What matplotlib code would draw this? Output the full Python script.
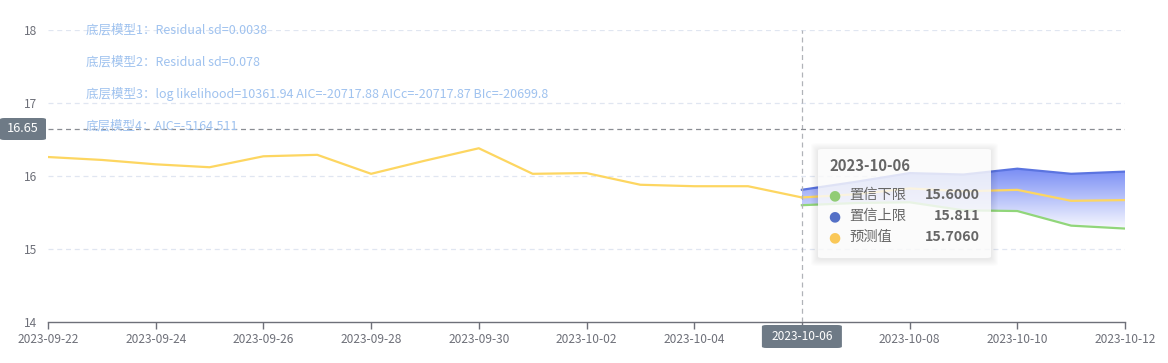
import matplotlib
matplotlib.use("Agg")
import matplotlib.pyplot as plt
import matplotlib.dates as mdates
from matplotlib.patches import FancyBboxPatch, Polygon
import numpy as np
import pandas as pd

plt.rcParams['font.family'] = ['Noto Sans CJK SC', 'DejaVu Sans']

# ---------------- data ----------------
hist_dates = ["2023-09-22", "2023-09-23", "2023-09-24", "2023-09-25", "2023-09-26",
              "2023-09-27", "2023-09-28", "2023-09-29", "2023-09-30", "2023-10-01",
              "2023-10-02", "2023-10-03", "2023-10-04", "2023-10-05", "2023-10-06"]
hist_values = [16.26, 16.22, 16.16, 16.12, 16.27, 16.29, 16.03, 16.21, 16.38, 16.03,
               16.04, 15.88, 15.86, 15.86, 15.706]

fc_dates = ["2023-10-06", "2023-10-07", "2023-10-08", "2023-10-09", "2023-10-10",
            "2023-10-11", "2023-10-12"]
lower_values = [15.60, 15.63, 15.64, 15.53, 15.52, 15.32, 15.28]
upper_values = [15.811, 15.92, 16.04, 16.02, 16.10, 16.03, 16.06]
pred_values = [15.706, 15.75, 15.83, 15.79, 15.81, 15.66, 15.67]

tick_dates = ["2023-09-22", "2023-09-24", "2023-09-26", "2023-09-28", "2023-09-30",
              "2023-10-02", "2023-10-04", "2023-10-06", "2023-10-08", "2023-10-10",
              "2023-10-12"]
y_ticks = [14, 15, 16, 17, 18]

notes = ["底层模型1：Residual sd=0.0038",
         "底层模型2：Residual sd=0.078",
         "底层模型3：log likelihood=10361.94 AIC=-20717.88 AICc=-20717.87 BIc=-20699.8",
         "底层模型4：AIC=-5164.511"]

pointer_date = "2023-10-06"
pointer_value = 16.65
tooltip_title = "2023-10-06"
tooltip_names = ["置信下限", "置信上限", "预测值"]
tooltip_values = ["15.6000", "15.811", "15.7060"]

# ---------------- styles ----------------
C_HIST = "#fdd661"
C_PRED = "#fdd661"
C_LOW = "#91d67a"
C_UP = "#5b74e0"
C_AXIS = "#6e7079"
C_GRID = "#e0e6f1"
C_NOTE = "#9fc2ef"
C_BOX = "#6e7a86"
TOOL_DOTS = ["#91cc75", "#5470c6", "#fac858"]

W, H = 1168, 363
fig = plt.figure(figsize=(W / 100, H / 100), dpi=100)
L, R, T, B = 48, 1125, 30, 322
ax = fig.add_axes([L / W, 1 - B / H, (R - L) / W, (B - T) / H])

hd = pd.to_datetime(hist_dates)
fd = pd.to_datetime(fc_dates)
td = pd.to_datetime(tick_dates)
hx = mdates.date2num(hd)
fx = mdates.date2num(fd)

ax.set_xlim(mdates.date2num(td[0]), mdates.date2num(td[-1]))
ax.set_ylim(14, 18)

# grid
for yv in y_ticks[1:]:
    ax.axhline(yv, color=C_GRID, lw=0.9, ls=(0, (4, 3)), zorder=0)

# gradient fill between lower and upper
ytop, ybot = max(upper_values), min(lower_values) - 0.05
grad = np.linspace(0, 1, 256).reshape(-1, 1)
top_c = np.array([0.47, 0.55, 0.96])
bot_c = np.array([1.0, 1.0, 1.0])
img = top_c[None, None, :] * (1 - grad[:, :, None]) + bot_c[None, None, :] * grad[:, :, None]
im = ax.imshow(img, extent=[fx[0], fx[-1], ybot, ytop], origin="upper",
               aspect="auto", zorder=1)
poly_pts = list(zip(fx, upper_values)) + list(zip(fx[::-1], lower_values[::-1]))
poly = Polygon(poly_pts, closed=True, transform=ax.transData, facecolor="none", edgecolor="none")
ax.add_patch(poly)
im.set_clip_path(poly)

# lines
ax.plot(hx, hist_values, color=C_HIST, lw=1.6, zorder=3, solid_joinstyle="round")
ax.plot(fx, lower_values, color=C_LOW, lw=1.6, zorder=3)
ax.plot(fx, upper_values, color=C_UP, lw=1.6, zorder=3)
ax.plot(fx, pred_values, color=C_PRED, lw=1.6, zorder=3)

# axes styling
for s in ["top", "right", "left"]:
    ax.spines[s].set_visible(False)
ax.spines["bottom"].set_color(C_AXIS)
ax.spines["bottom"].set_linewidth(1.0)
ax.set_xticks(mdates.date2num(td))
ax.set_xticklabels([d for d in tick_dates])
ax.tick_params(axis="x", colors=C_AXIS, length=5, width=1, labelsize=8.6, pad=3)
ax.set_yticks(y_ticks)
ax.set_yticklabels([str(v) for v in y_ticks])
ax.tick_params(axis="y", length=0, labelsize=8.6, colors=C_AXIS, pad=8)
for lab in ax.get_xticklabels():
    if lab.get_text() == pointer_date:
        lab.set_visible(False)

# axis pointer
px = mdates.date2num(pd.to_datetime(pointer_date))
ax.axvline(px, color="#b0b3b8", lw=0.9, ls=(0, (4, 3)), zorder=4)
ax.axhline(pointer_value, color="#8a8d93", lw=0.9, ls=(0, (4, 3)), zorder=4)

def fig_box(x0, y0, x1, y1, color, text, fs=8.6):
    p = FancyBboxPatch((x0 / W, 1 - y1 / H), (x1 - x0) / W, (y1 - y0) / H,
                       boxstyle="round,pad=0,rounding_size=0.004", transform=fig.transFigure,
                       facecolor=color, edgecolor="none", zorder=10)
    fig.patches.append(p)
    fig.text((x0 + x1) / 2 / W, 1 - (y0 + y1) / 2 / H, text, color="white", fontsize=fs,
             ha="center", va="center", zorder=11)

# pointer labels
fig_box(0, 118, 46, 140, C_BOX, "16.65", fs=9.2)
px_pix = L + (px - mdates.date2num(td[0])) / (mdates.date2num(td[-1]) - mdates.date2num(td[0])) * (R - L)
fig_box(px_pix - 40, 325, px_pix + 40, 348, C_BOX, pointer_date, fs=8.6)

# notes
for i, t in enumerate(notes):
    fig.text(86 / W, 1 - (30 + 32 * i) / H, t, color=C_NOTE, fontsize=9.0,
             ha="left", va="center", zorder=5)

# tooltip
tx0, ty0, tx1, ty1 = 818, 149, 991, 258
for k in range(7, 0, -1):
    sh = FancyBboxPatch(((tx0 - k) / W, 1 - (ty1 + k + 1) / H), (tx1 - tx0 + 2 * k) / W,
                        (ty1 - ty0 + 2 * k) / H,
                        boxstyle="round,pad=0,rounding_size=0.006", transform=fig.transFigure,
                        facecolor="black", alpha=0.010, edgecolor="none", zorder=12)
    fig.patches.append(sh)
tip = FancyBboxPatch((tx0 / W, 1 - ty1 / H), (tx1 - tx0) / W, (ty1 - ty0) / H,
                     boxstyle="round,pad=0,rounding_size=0.004", transform=fig.transFigure,
                     facecolor="white", alpha=0.82, edgecolor="none", zorder=13)
fig.patches.append(tip)
fig.text(830 / W, 1 - 166 / H, tooltip_title, color="#666666", fontsize=10.7,
         fontweight="bold", ha="left", va="center", zorder=14)
for i, (n, v, c) in enumerate(zip(tooltip_names, tooltip_values, TOOL_DOTS)):
    yy = 1 - (195 + 21 * i) / H
    fig.text(834 / W, yy, "●", color=c, fontsize=10, ha="center", va="center", zorder=14,
             family=["DejaVu Sans"])
    fig.text(849 / W, yy, n, color="#666666", fontsize=10.3, ha="left", va="center", zorder=14)
    fig.text(980 / W, yy, v, color="#666666", fontsize=10.3, fontweight="bold",
             ha="right", va="center", zorder=14)

fig.savefig("out.png", dpi=100)
